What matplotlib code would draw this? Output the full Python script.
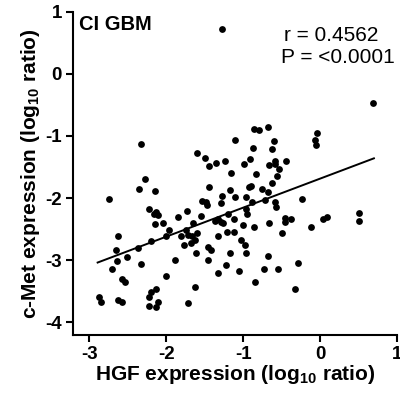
import matplotlib
matplotlib.use("Agg")
import matplotlib.pyplot as plt

# HGF expression (x) vs c-Met expression (y), log10 ratio
hgf = [-1.27, 0.69, -2.32, -2.27, -2.35, -2.15, -2.74, -2.22, -2.13, -2.16,
       -2.10, -1.85, -1.73, -2.15, -2.04, -0.86, -0.79, -0.67, -1.10, -0.60,
       -0.87, -0.62, -1.60, -1.50, -1.35, -1.23, -1.44, -0.91, -0.99, -0.59,
       -0.66, -0.58, -0.44, -0.53, -1.16, -0.83, -0.56, -0.62, -1.44, -1.17,
       -0.92, -0.90, -0.75, -0.68, -1.28, -1.29, -1.11, -0.96, -0.72, -0.88,
       -1.54, -1.48, -1.47, -0.58, -0.57, -0.96, -0.95, -1.19, -1.55, -1.36,
       -1.29, -1.32, -1.12, -0.45, -0.38, -0.45, -0.04, -0.06, -0.05, -0.24,
       0.04, 0.09, 0.51, 0.51, -1.65, -1.96, -2.62, -2.19, -2.00, -1.81,
       -1.74, -1.72, -1.77, -1.68, -2.65, -2.37, -2.64, -2.51, -2.33, -1.89,
       -2.70, -2.57, -2.54, -2.00, -2.13, -2.20, -2.22, -2.87, -2.85, -2.62,
       -2.57, -2.11, -2.13, -2.22, -1.72, -1.67, -1.60, -1.62, -1.26, -1.00,
       -0.86, -0.66, -1.32, -1.21, -1.12, -1.03, -0.97, -0.50, -1.46, -1.42,
       -1.61, -1.17, -0.96, -0.68, -1.45, -1.22, -1.32, -1.05, -0.73, -0.54,
       -0.84, -0.33, -1.63, -0.12, -0.28]
cmet = [0.73, -0.46, -1.13, -1.70, -1.85, -1.89, -2.02, -2.17, -2.22, -2.25,
        -2.27, -2.30, -2.21, -2.42, -2.40, -0.88, -0.91, -0.86, -1.06, -1.08,
        -1.19, -1.21, -1.28, -1.35, -1.43, -1.40, -1.48, -1.37, -1.45, -1.41,
        -1.46, -1.45, -1.41, -1.54, -1.59, -1.61, -1.64, -1.75, -1.83, -1.87,
        -1.83, -1.81, -1.85, -1.91, -1.96, -2.08, -1.98, -1.99, -2.03, -2.07,
        -2.04, -2.06, -2.11, -2.07, -2.15, -2.17, -2.25, -2.25, -2.29, -2.37,
        -2.38, -2.34, -2.34, -2.32, -2.34, -2.38, -0.95, -1.06, -1.14, -2.01,
        -2.34, -2.30, -2.24, -2.37, -2.41, -2.52, -2.62, -2.69, -2.62, -2.61,
        -2.52, -2.60, -2.75, -2.73, -2.84, -2.81, -3.02, -2.95, -3.06, -3.00,
        -3.14, -3.30, -3.36, -3.26, -3.46, -3.52, -3.59, -3.60, -3.67, -3.65,
        -3.67, -3.67, -3.75, -3.74, -3.70, -2.61, -2.57, -2.68, -2.41, -2.44,
        -2.46, -2.41, -2.61, -2.55, -2.55, -2.68, -2.76, -2.57, -2.79, -2.83,
        -2.89, -2.88, -2.89, -2.94, -3.00, -3.08, -3.21, -3.18, -3.15, -3.14,
        -3.36, -3.46, -3.44, -2.46, -3.04]

# regression line as drawn
fit_x = [-2.89, 0.70]
fit_y = [-3.04, -1.36]

x_ticks = [-3, -2, -1, 0, 1]
y_ticks = [-4, -3, -2, -1, 0, 1]

plt.rcParams["font.family"] = ["Liberation Sans", "DejaVu Sans"]
plt.rcParams["axes.unicode_minus"] = False
plt.rcParams["mathtext.fontset"] = "custom"
plt.rcParams["mathtext.rm"] = "Liberation Sans"
plt.rcParams["mathtext.bf"] = "Liberation Sans:bold"

fig = plt.figure(figsize=(4.0, 3.98), dpi=100)
ax = fig.add_axes([0.1825, 0.158, 0.81, 0.812])

ax.scatter(hgf, cmet, s=24, color="black", linewidths=0, zorder=3)
ax.plot(fit_x, fit_y, color="black", lw=1.4)

ax.set_xlim(-3.21, 1.0)
ax.set_ylim(-4.21, 1.0)
ax.set_xticks(x_ticks)
ax.set_yticks(y_ticks)
ax.tick_params(width=1.5, length=5, labelsize=13.5, pad=3)
for lab in ax.get_xticklabels() + ax.get_yticklabels():
    lab.set_fontweight("bold")
for side in ["top", "right"]:
    ax.spines[side].set_visible(False)
for side in ["left", "bottom"]:
    ax.spines[side].set_linewidth(1.5)

ax.set_xlabel(r"HGF expression (log$_{\mathbf{10}}$ ratio)", fontsize=15,
              fontweight="bold", labelpad=0)
ax.set_ylabel(r"c-Met expression (log$_{\mathbf{10}}$ ratio)", fontsize=15,
              fontweight="bold", labelpad=2)

ax.text(0.02, 0.99, "CI GBM", transform=ax.transAxes, fontsize=14.5,
        fontweight="bold", va="top", ha="left")
fig.text(0.8275, 0.912, "r = 0.4562", fontsize=15, ha="center", va="center")
fig.text(0.844, 0.855, "P = <0.0001", fontsize=15, ha="center", va="center")

fig.savefig("out.png", dpi=100)
